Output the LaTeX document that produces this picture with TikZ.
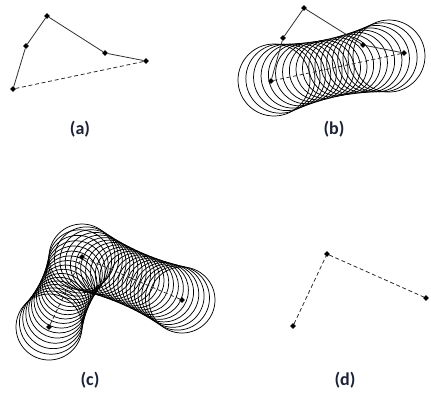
\documentclass[tikz,border=0pt]{standalone}
\usepackage{fontspec}
\setmainfont{Carlito}
\usepackage{tikz}
\usetikzlibrary{calc,shapes.geometric}
\definecolor{cInk}{HTML}{1C2236}
\definecolor{cLine}{HTML}{303030}

\begin{document}
\begin{tikzpicture}[x=0.75pt,y=-0.75pt,
  pt/.style={diamond,fill=black,inner sep=0pt,minimum size=4.5pt},
  poly/.style={cLine,line width=0.6pt},
  chord/.style={cLine,line width=0.6pt,dash pattern=on 3pt off 2pt},
  ring/.style={black,line width=0.55pt},
  tag/.style={font=\fontsize{13.5}{16}\selectfont\bfseries,text=cInk}]
  \useasboundingbox (0,0) rectangle (431,394);
  % (a) control polygon
  \node[pt] (a1) at (13,89) {};
  \node[pt] (a2) at (26,46) {};
  \node[pt] (a3) at (47,16) {};
  \node[pt] (a4) at (105,53) {};
  \node[pt] (a5) at (146,61) {};
  \draw[poly] (a1) -- (a2) -- (a3) -- (a4) -- (a5);
  \draw[chord] (a5) -- (a1);
  \node[tag] (la) at (80,129) {(a)};
  % (b) swept circles along the chord
  \node[pt] (b1) at (271,81) {};
  \node[pt] (b2) at (283,38) {};
  \node[pt] (b3) at (304,8) {};
  \node[pt] (b4) at (363,45) {};
  \node[pt] (b5) at (404,53) {};
  \coordinate (bs) at (274,80);
  \coordinate (be) at (389,56);
  \foreach \i in {0,...,18}
    \draw[ring] ($(bs)!{\i/18}!(be)$) circle[radius={36-28*(\i/18)*(1-\i/18)}];
  \draw[poly] (b1) -- (b2) -- (b3) -- (b4) -- (b5);
  \draw[chord] (b5) -- (b1);
  \node[tag] (lb) at (334,129) {(b)};
  % (c) swept circles along two chords
  \node[pt] (c1) at (49,327) {};
  \node[pt] (c2) at (82,257) {};
  \node[pt] (c3) at (182,300) {};
  \foreach \i in {0,...,16}
    \draw[ring] ($(c1)!{\i/16}!(c2)$) circle[radius={33-24*(\i/16)*(1-\i/16)}];
  \foreach \i in {1,...,22}
    \draw[ring] ($(c2)!{\i/22}!(c3)$) circle[radius={33-22*(\i/22)*(1-\i/22)}];
  \draw[chord] (c1) -- (c2) -- (c3);
  \node[tag] (lc) at (90,380) {(c)};
  % (d) chords only
  \node[pt] (d1) at (293,326) {};
  \node[pt] (d2) at (327,254) {};
  \node[pt] (d3) at (426,298) {};
  \draw[chord] (d1) -- (d2) -- (d3);
  \node[tag] (ld) at (345,380) {(d)};
\end{tikzpicture}
\end{document}
